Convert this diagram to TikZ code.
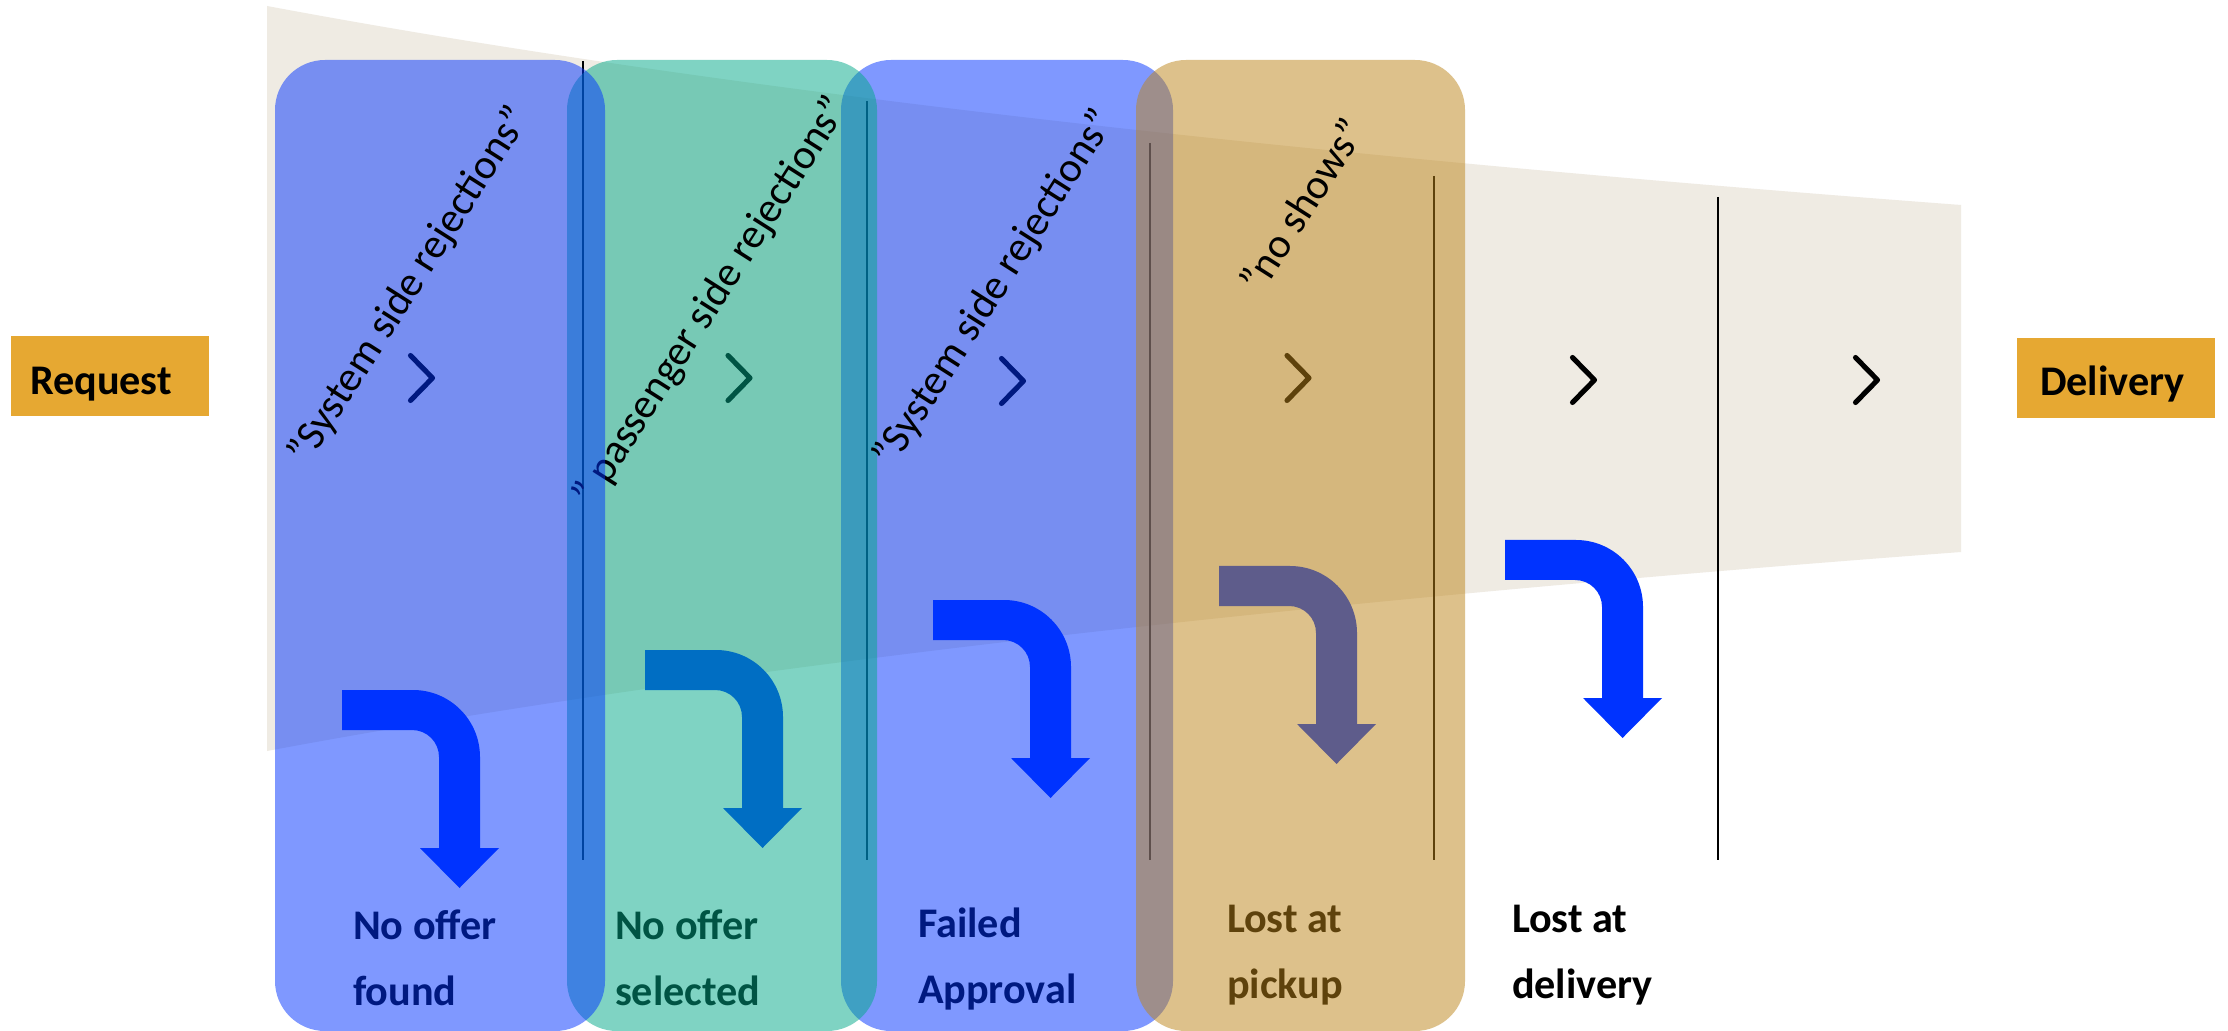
\documentclass[tikz,border=0pt]{standalone}
\usepackage{fontspec}
\setmainfont{Carlito}
\definecolor{funnel}{HTML}{EFEBE3}
\definecolor{gold}{HTML}{E6A832}
\definecolor{lossblue}{HTML}{0033FF}
\definecolor{lossteal}{HTML}{00A989}
\definecolor{losstan}{HTML}{BD8519}
\tikzset{
  hookarrow/.pic={
    \fill[lossblue] (0,0) -- (71,0) .. controls (108,0) and (138,30) .. (138,67)
      -- (138,158) -- (157,158) -- (117.5,198) -- (78,158) -- (97,158) -- (97,67)
      .. controls (97,52) and (85,40) .. (70,40) -- (0,40) -- cycle;
  },
  chevron/.pic={
    \draw[line width=1.45pt, line cap=round, line join=round] (-11,-22.5) -- (11,0) -- (-11,22.5);
  },
}
\begin{document}
\begin{tikzpicture}[x=0.01cm, y=-0.01cm,
  every node/.style={inner sep=0pt, outer sep=0pt},
  endbox/.style={fill=gold, minimum width=1.98cm, minimum height=0.8cm, anchor=north west},
  endtext/.style={font=\fontsize{12pt}{14pt}\selectfont\bfseries, anchor=base west},
  lbl/.style={font=\fontsize{12pt}{18.5pt}\selectfont\bfseries, align=left, anchor=base west},
  rottext/.style={font=\fontsize{12pt}{14pt}\selectfont, rotate=57.5, anchor=center},
  stage/.style={fill opacity=0.5, rounded corners=0.5cm},
  divider/.style={line width=0.7pt, draw=black},
]
\fill[white] (0,0) rectangle (2228,1031);
\useasboundingbox (0,0) rectangle (2228,1031);

% funnel
\fill[funnel] (267,6) .. controls (689,85) and (1254,152) .. (1961,205)
  -- (1961,552) .. controls (1254,605) and (689,672) .. (267,751) -- cycle;

% stage dividers
\draw[divider] (583,61) -- (583,860);
\draw[divider] (867,101) -- (867,860);
\draw[divider] (1150,143) -- (1150,860);
\draw[divider] (1434,176) -- (1434,860);
\draw[divider] (1718,197) -- (1718,860);

% flow chevrons
\pic at (421.5,378) {chevron};
\pic at (739,378) {chevron};
\pic at (1012.5,381) {chevron};
\pic at (1298,378) {chevron};
\pic at (1583.5,380) {chevron};
\pic at (1866.5,380) {chevron};

% drop-out arrows
\pic at (342,690) {hookarrow};
\pic at (645,650) {hookarrow};
\pic at (933,600) {hookarrow};
\pic at (1219,566) {hookarrow};
\pic at (1505,540) {hookarrow};

% drop-out labels (anchored on the baseline of their last line)
\node[lbl] (lnofound) at (353,1005) {No offer\\found};
\node[lbl] (lnosel) at (615,1005) {No offer\\selected};
\node[lbl] (lfailed) at (918,1003) {Failed\\Approval};
\node[lbl] (lpickup) at (1227,998) {Lost at\\pickup};
\node[lbl] (ldelivery) at (1512,998) {Lost at\\delivery};

% end points
\node[endbox] (req) at (11,336) {};
\node[endtext] (reqtext) at (30,395) {Request};
\node[endbox] (del) at (2017,338) {};
\node[endtext] (deltext) at (2040,396) {Delivery};

% stage bands with their captions
\fill[lossblue, stage] (841,60) rectangle (1173,1031);
\fill[lossteal, stage] (567,60) rectangle (877,1031);
\node[rottext] (t3) at (995,289) {”System side rejections”};
\node[rottext] (t2) at (712,302) {” passenger side rejections”};
\fill[lossblue, stage] (275,60) rectangle (605,1031);
\node[rottext] (t1) at (410,286) {”System side rejections”};
\fill[losstan, stage] (1136,60) rectangle (1465,1031);
\node[rottext] (t4) at (1302,205) {”no shows”};
\end{tikzpicture}
\end{document}
